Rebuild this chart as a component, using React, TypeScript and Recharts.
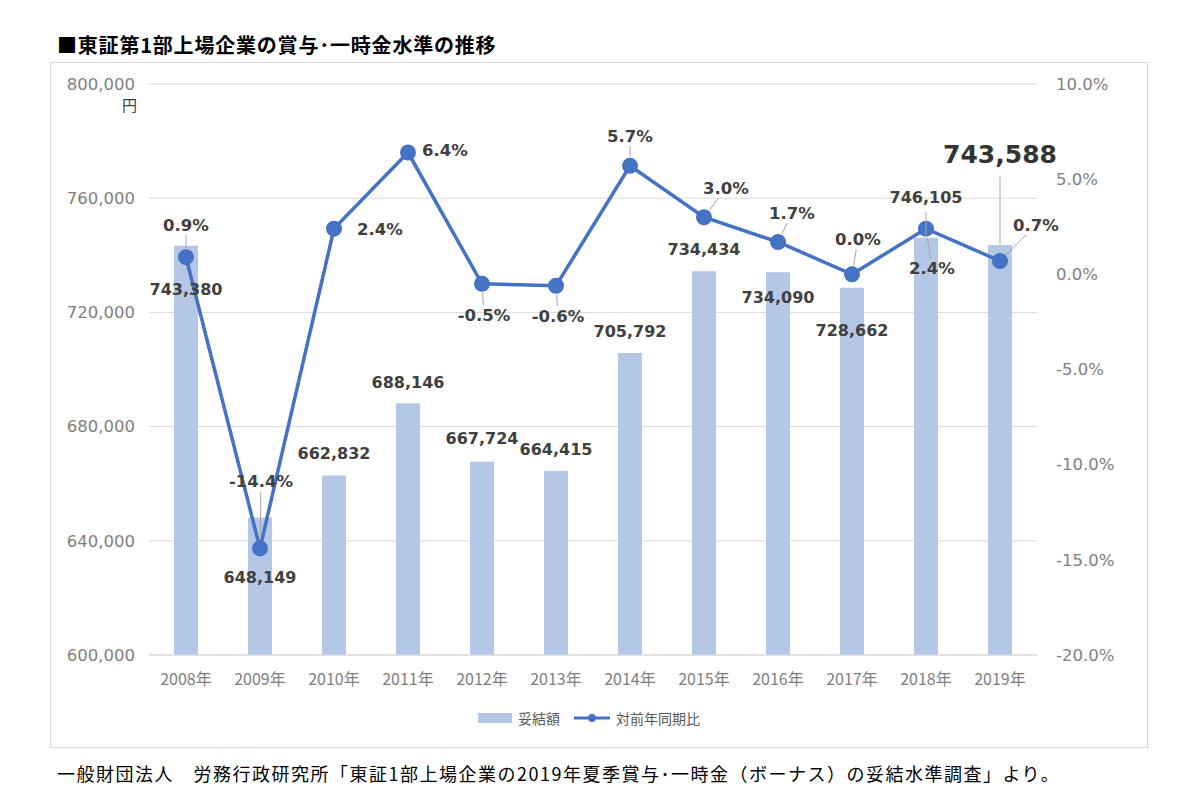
import {
  ComposedChart,
  XAxis,
  YAxis,
  CartesianGrid,
  Bar,
  Line,
  LabelList,
} from "recharts";

const years = [
  "2008年", "2009年", "2010年", "2011年", "2012年", "2013年",
  "2014年", "2015年", "2016年", "2017年", "2018年", "2019年",
];
const amounts = [
  743380, 648149, 662832, 688146, 667724, 664415,
  705792, 734434, 734090, 728662, 746105, 743588,
];
const yoy = [0.9, -14.4, 2.4, 6.4, -0.5, -0.6, 5.7, 3.0, 1.7, 0.0, 2.4, 0.7];
const leftTicks = [600000, 640000, 680000, 720000, 760000, 800000];
const rightTicks = [-20, -15, -10, -5, 0, 5, 10];

// label placement, relative to the point / bar top
const pctOffsets = [
  [0, -32], [1, -67], [46, 1], [37, -2], [2, 31], [2, 30],
  [0, -30], [22, -29], [14, -29], [6, -35], [6, 40], [36, -36],
];
const amtOffsets = [44, 60, -22, -21, -23, -22, -22, -22, 25, 43, -40, -91];

const data = years.map((y, i) => ({ year: y, amount: amounts[i], yoy: yoy[i] }));

const BAR = "#b4c7e7";
const LINE = "#4472c4";
const LABEL = "#404040";
const AXIS = "#7f7f7f";
const NUM_FONT = "DejaVu Sans";
const JP_FONT = "Noto Sans CJK JP";

const LeftTick = (props: any) => {
  const { x, y, payload } = props;
  return (
    <g>
      <text x={x} y={y} dy="0.35em" textAnchor="end" fill={AXIS} fontSize={16.5} fontFamily={NUM_FONT}>
        {payload.value.toLocaleString("en-US")}
      </text>
      {payload.value === 800000 && (
        <text x={x + 2} y={y + 22} dy="0.35em" textAnchor="end" fill={LABEL} fontSize={15} fontFamily={JP_FONT}>
          円
        </text>
      )}
    </g>
  );
};

const RightTick = (props: any) => {
  const { x, y, payload } = props;
  return (
    <text x={x} y={y} dy="0.35em" textAnchor="start" fill={AXIS} fontSize={16.5} fontFamily={NUM_FONT}>
      {payload.value.toFixed(1) + "%"}
    </text>
  );
};

const PctLabel = (props: any) => {
  const { x, y, index, value } = props;
  const [dx, dy] = pctOffsets[index];
  const lx = x + dx;
  const ly = y + dy;
  let leader = null;
  if (Math.abs(dy) > 28) {
    const d = Math.hypot(x - lx, y - ly);
    const ux = (x - lx) / d;
    const uy = (y - ly) / d;
    const t1 = 10 / Math.abs(uy);
    const t2 = d - 9;
    if (t2 - t1 > 4) {
      leader = (
        <line x1={lx + ux * t1} y1={ly + uy * t1} x2={lx + ux * t2} y2={ly + uy * t2} stroke="#a6a6a6" strokeWidth={1} />
      );
    }
  }
  return (
    <g>
      {leader}
      <text x={lx} y={ly} dy="0.35em" textAnchor="middle" fill={LABEL} fontSize={16.5} fontWeight="bold" fontFamily={NUM_FONT}>
        {Number(value).toFixed(1) + "%"}
      </text>
    </g>
  );
};

const AmtLabel = (props: any) => {
  const { x, y, width, index, value } = props;
  const cx = x + width / 2;
  const dy = amtOffsets[index];
  const big = index === amounts.length - 1;
  const fs = big ? 25 : 16;
  const ly = y + dy;
  let leader = null;
  if (dy < -30) {
    leader = <line x1={cx} y1={ly + fs * 0.9} x2={cx} y2={y - 1} stroke="#a6a6a6" strokeWidth={1} />;
  }
  return (
    <g>
      {leader}
      <text x={cx} y={ly} dy="0.35em" textAnchor="middle" fill={big ? "#333333" : LABEL} fontSize={fs} fontWeight="bold" fontFamily={NUM_FONT}>
        {Number(value).toLocaleString("en-US")}
      </text>
    </g>
  );
};

export default function App() {
  return (
    <div style={{ position: "absolute", left: 0, top: 0, width: 1200, height: 798, background: "#fff" }}>
      <div
        style={{
          position: "absolute", left: 57, top: 32, fontSize: 20, letterSpacing: 0.8, fontWeight: "bold",
          fontFamily: JP_FONT, color: "#000", whiteSpace: "nowrap", lineHeight: "26px",
        }}
      >
        ■東証第1部上場企業の賞与･一時金水準の推移
      </div>
      <div
        style={{
          position: "absolute", left: 50, top: 62, width: 1098, height: 686,
          border: "1px solid #d9d9d9", boxSizing: "border-box",
        }}
      />
      <div style={{ position: "absolute", left: 50, top: 62 }}>
        <ComposedChart
          width={1098}
          height={686}
          data={data}
          margin={{ top: 22, right: 11, bottom: 53, left: 0 }}
        >
          <CartesianGrid yAxisId="left" vertical={false} stroke="#d9d9d9" />
          <XAxis
            dataKey="year"
            axisLine={{ stroke: "#d9d9d9" }}
            tickLine={false}
            tickSize={0}
            tickMargin={19}
            height={40}
            tick={{ fill: AXIS, fontSize: 16, fontFamily: JP_FONT }}
          />
          <YAxis
            yAxisId="left"
            width={99}
            domain={[600000, 800000]}
            ticks={leftTicks}
            axisLine={false}
            tickLine={false}
            tickSize={0}
            tickMargin={14}
            tick={<LeftTick />}
          />
          <YAxis
            yAxisId="right"
            orientation="right"
            width={100}
            domain={[-20, 10]}
            ticks={rightTicks}
            axisLine={false}
            tickLine={false}
            tickSize={0}
            tickMargin={19}
            tick={<RightTick />}
          />
          <Bar yAxisId="left" dataKey="amount" fill={BAR} barSize={24} isAnimationActive={false}>
            <LabelList dataKey="amount" content={<AmtLabel />} />
          </Bar>
          <Line
            yAxisId="right"
            dataKey="yoy"
            stroke={LINE}
            strokeWidth={3.5}
            dot={{ r: 8, fill: LINE, stroke: LINE, strokeWidth: 0 }}
            isAnimationActive={false}
          >
            <LabelList dataKey="yoy" content={<PctLabel />} />
          </Line>
        </ComposedChart>
      </div>
      <div
        style={{
          position: "absolute", left: 478, top: 708, display: "flex", alignItems: "center",
          fontFamily: JP_FONT, fontSize: 14, color: "#595959", whiteSpace: "nowrap", height: 20,
        }}
      >
        <span style={{ display: "inline-block", width: 34, height: 10, background: BAR, marginRight: 6 }} />
        <span style={{ marginRight: 14 }}>妥結額</span>
        <svg width={36} height={20} style={{ marginRight: 6 }}>
          <line x1={0} y1={10} x2={36} y2={10} stroke={LINE} strokeWidth={3} />
          <circle cx={18} cy={10} r={4} fill={LINE} />
        </svg>
        <span>対前年同期比</span>
      </div>
      <div
        style={{
          position: "absolute", left: 57, top: 760, fontSize: 18, letterSpacing: 1.5, fontFamily: JP_FONT,
          color: "#000", whiteSpace: "nowrap", lineHeight: "26px",
        }}
      >
        一般財団法人　労務行政研究所「東証1部上場企業の2019年夏季賞与･一時金（ボーナス）の妥結水準調査」より。
      </div>
    </div>
  );
}
